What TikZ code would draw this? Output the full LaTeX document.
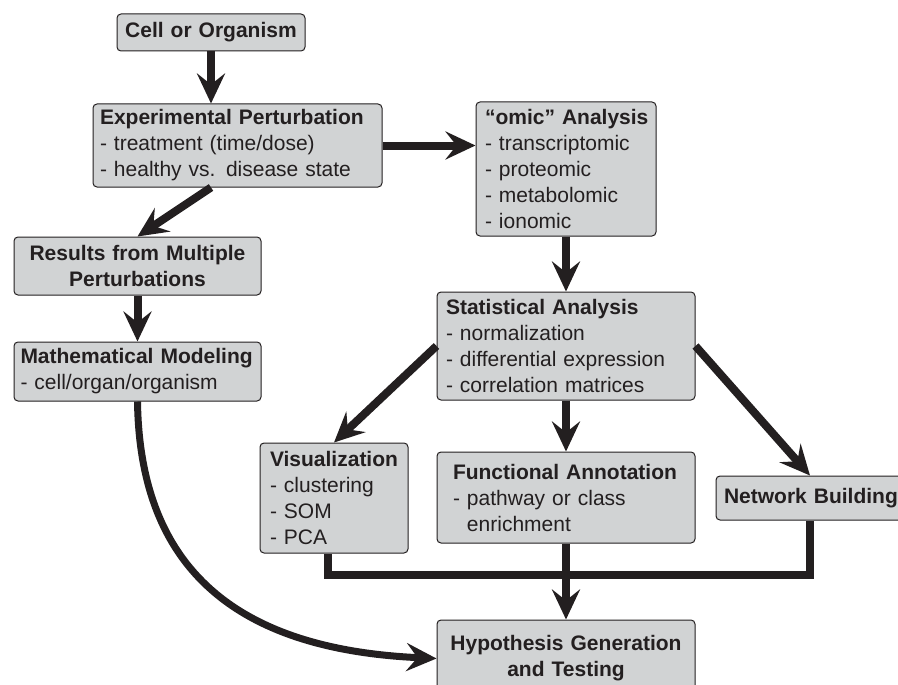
\documentclass[tikz,border=0pt]{standalone}
\usepackage{fontspec}
\setmainfont{Liberation Sans}
\usetikzlibrary{arrows.meta,calc}
\definecolor{boxfill}{HTML}{D1D3D4}
\definecolor{ink}{HTML}{231F20}
\newcommand{\ml}[1]{\mbox{#1}}
\begin{document}
\begin{tikzpicture}[x=1pt,y=-1pt,
  box/.style={draw=ink, line width=1pt, fill=boxfill, rounded corners=4pt,
    text=ink, font=\fontsize{21}{26}\selectfont, inner ysep=0pt, align=left},
  cbox/.style={box, align=center},
  arr/.style={draw=ink, line width=8pt, -{Stealth[length=30pt,width=28pt,inset=11pt]}},
  merge/.style={draw=ink, line width=7.5pt, line join=miter}
]
\useasboundingbox (0,0) rectangle (898,685);

\node[cbox, text width=178pt, inner xsep=5pt, minimum height=37pt] (cell) at (211,32.5)
  {\textbf{Cell or Organism}};
\node[box, text width=275pt, inner xsep=7pt, minimum height=83pt] (exp) at (237.5,145.5)
  {\ml{\textbf{Experimental Perturbation}}\\ \ml{- treatment (time/dose)}\\ \ml{- healthy vs. disease state}};
\node[cbox, text width=237pt, inner xsep=5pt, minimum height=58pt] (res) at (137.5,266)
  {\ml{\textbf{Results from Multiple}}\\ \ml{\textbf{Perturbations}}};
\node[box, text width=234pt, inner xsep=6.5pt, minimum height=59pt] (math) at (137.5,371.5)
  {\ml{\textbf{Mathematical Modeling}}\\ \ml{- cell/organ/organism}};
\node[box, text width=162pt, inner xsep=9pt, minimum height=134pt] (omic) at (566,169)
  {\ml{\textbf{“omic” Analysis}}\\ \ml{- transcriptomic}\\ \ml{- proteomic}\\ \ml{- metabolomic}\\ \ml{- ionomic}};
\node[box, text width=240pt, inner xsep=9pt, minimum height=108pt] (stat) at (566,346)
  {\ml{\textbf{Statistical Analysis}}\\ \ml{- normalization}\\ \ml{- differential expression}\\ \ml{- correlation matrices}};
\node[box, text width=128pt, inner xsep=10pt, minimum height=110pt] (vis) at (334,498)
  {\ml{\textbf{Visualization}}\\ \ml{- clustering}\\ \ml{- SOM}\\ \ml{- PCA}};
\node[box, text width=226pt, inner xsep=16pt, minimum height=91pt] (func) at (566,497.5)
  {\ml{\textbf{Functional Annotation}}\\ \ml{- pathway or class}\\ \ml{\hphantom{- }enrichment}};
\node[box, text width=172pt, inner xsep=8pt, minimum height=44pt] (net) at (810,498)
  {\ml{\textbf{Network Building}}};
\node[cbox, text width=248pt, inner xsep=5pt, minimum height=77pt] (hyp) at (566,658.5)
  {\ml{\textbf{Hypothesis Generation}}\\ \ml{\textbf{and Testing}}};

\coordinate (jn) at (566,575);

\draw[arr] (cell.south) -- (cell.south |- exp.north);
\draw[arr] (exp.south -| cell.south) -- (res.north);
\draw[arr] (res) -- (math);
\draw[arr] (exp.east) -- (exp.east -| omic.west);
\draw[arr] (omic) -- (stat);
\draw[arr] (stat.west) -- (vis.north);
\draw[arr] (stat) -- (func);
\draw[arr] (stat.east) -- (net.north);
\draw[merge] ([xshift=-6pt]vis.south) |- (jn) -| (net.south);
\draw[arr] (func) -- (hyp);
\draw[arr, line width=7pt] (math.south) .. controls (140,580) and (250,650) .. (hyp.west);
\end{tikzpicture}
\end{document}
